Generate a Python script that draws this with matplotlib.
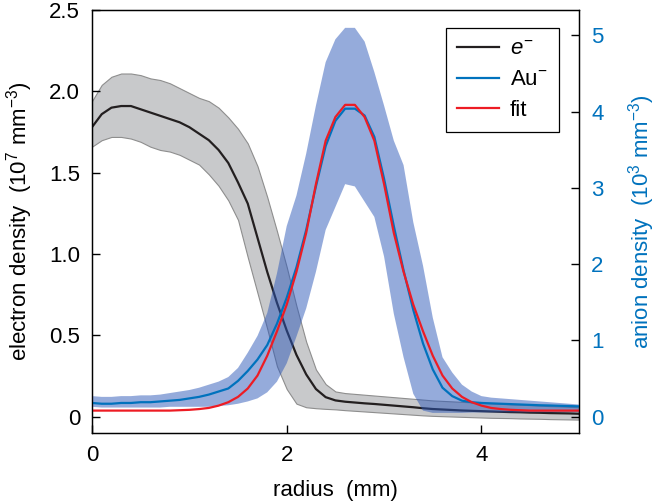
import numpy as np
import matplotlib
matplotlib.use("Agg")
from matplotlib import pyplot as plt

plt.rcParams['font.family'] = ['Liberation Sans', 'DejaVu Sans']
plt.rcParams['mathtext.fontset'] = 'custom'
plt.rcParams['mathtext.rm'] = 'Liberation Sans'
plt.rcParams['mathtext.it'] = 'Liberation Sans:italic'
plt.rcParams['font.size'] = 16

# radius grid (mm)
radius = np.round(np.arange(0, 5.01, 0.1), 1)

# electron density (1e7 mm^-3), mean and band
e_mean = [1.78, 1.86, 1.90, 1.91, 1.91, 1.89, 1.87, 1.85, 1.83, 1.81,
          1.78, 1.74, 1.70, 1.64, 1.56, 1.44, 1.31, 1.10, 0.89, 0.70,
          0.53, 0.38, 0.26, 0.17, 0.12, 0.10, 0.092, 0.087, 0.082, 0.078,
          0.073, 0.068, 0.063, 0.058, 0.052, 0.047, 0.044, 0.041, 0.038, 0.036,
          0.034, 0.032, 0.030, 0.028, 0.027, 0.025, 0.024, 0.022, 0.021, 0.020,
          0.018]
e_hi = [1.94, 2.04, 2.09, 2.11, 2.11, 2.10, 2.08, 2.07, 2.05, 2.02,
        1.99, 1.96, 1.94, 1.90, 1.84, 1.77, 1.68, 1.54, 1.35, 1.14,
        0.92, 0.68, 0.46, 0.29, 0.20, 0.155, 0.145, 0.14, 0.135, 0.13,
        0.125, 0.12, 0.115, 0.11, 0.105, 0.10, 0.097, 0.094, 0.091, 0.088,
        0.085, 0.082, 0.079, 0.076, 0.074, 0.071, 0.068, 0.065, 0.063, 0.060,
        0.058]
e_lo = [1.66, 1.70, 1.72, 1.72, 1.71, 1.69, 1.66, 1.64, 1.63, 1.61,
        1.58, 1.55, 1.49, 1.42, 1.33, 1.21, 0.98, 0.76, 0.54, 0.31,
        0.17, 0.08, 0.058, 0.052, 0.048, 0.045, 0.040, 0.036, 0.032, 0.028,
        0.024, 0.020, 0.016, 0.012, 0.008, 0.005, 0.003, 0.001, -0.001, -0.003,
        -0.005, -0.007, -0.008, -0.009, -0.011, -0.012, -0.013, -0.015, -0.016, -0.017,
        -0.018]

# anion density (1e3 mm^-3), mean, band and fit
au_mean = [0.18, 0.17, 0.17, 0.18, 0.18, 0.19, 0.19, 0.20, 0.21, 0.22,
           0.24, 0.26, 0.29, 0.33, 0.37, 0.47, 0.60, 0.75, 0.94, 1.22,
           1.56, 1.96, 2.45, 3.02, 3.55, 3.88, 4.04, 4.04, 3.95, 3.67,
           3.12, 2.50, 1.92, 1.40, 0.96, 0.62, 0.38, 0.27, 0.21, 0.19,
           0.18, 0.175, 0.17, 0.165, 0.16, 0.155, 0.15, 0.147, 0.143, 0.14,
           0.135]
au_hi = [0.27, 0.26, 0.26, 0.27, 0.27, 0.28, 0.28, 0.29, 0.31, 0.33,
         0.35, 0.38, 0.42, 0.46, 0.52, 0.64, 0.84, 1.06, 1.36, 1.88,
         2.50, 2.90, 3.45, 4.08, 4.65, 4.95, 5.10, 5.10, 4.92, 4.52,
         4.08, 3.62, 3.30, 2.55, 1.98, 1.30, 0.78, 0.58, 0.42, 0.33,
         0.27, 0.25, 0.24, 0.23, 0.22, 0.21, 0.20, 0.19, 0.18, 0.17,
         0.16]
au_lo = [0.13, 0.12, 0.12, 0.12, 0.12, 0.12, 0.12, 0.12, 0.13, 0.13,
         0.13, 0.13, 0.13, 0.14, 0.15, 0.17, 0.20, 0.24, 0.32, 0.46,
         0.70, 1.05, 1.42, 1.90, 2.45, 2.75, 3.05, 3.02, 2.82, 2.62,
         2.10, 1.35, 0.78, 0.30, 0.08, 0.05, 0.05, 0.05, 0.05, 0.055,
         0.055, 0.055, 0.055, 0.056, 0.056, 0.057, 0.058, 0.058, 0.059, 0.06,
         0.06]
au_fit = [0.08, 0.08, 0.08, 0.08, 0.08, 0.08, 0.08, 0.08, 0.08, 0.085,
          0.09, 0.10, 0.115, 0.145, 0.19, 0.26, 0.37, 0.54, 0.80, 1.12,
          1.47, 1.90, 2.41, 3.05, 3.62, 3.93, 4.09, 4.09, 3.93, 3.62,
          3.05, 2.41, 1.90, 1.47, 1.12, 0.80, 0.54, 0.37, 0.26, 0.19,
          0.145, 0.115, 0.10, 0.09, 0.085, 0.08, 0.08, 0.08, 0.08, 0.08,
          0.08]

c_black = '#231f20'
c_blue = '#0072bd'
c_red = '#ed1c24'

fig = plt.figure(figsize=(6.57, 5.04), dpi=100)
ax = fig.add_axes([0.140, 0.141, 0.741, 0.839])
ax2 = ax.twinx()

ax.fill_between(radius, e_lo, e_hi, facecolor='#c8c9cb', edgecolor='#8e8e8e', lw=0.8)
ln_e, = ax.plot(radius, e_mean, color=c_black, lw=1.6, label='$e^{-}$')

ax2.fill_between(radius, au_lo, au_hi, facecolor='#2d58b8', alpha=0.5, lw=0)
ln_au, = ax2.plot(radius, au_mean, color=c_blue, lw=1.6, label='Au$^{-}$')
ln_fit, = ax2.plot(radius, au_fit, color=c_red, lw=1.6, label='fit')

ax.set_xlim(0, 5)
ax.set_ylim(-0.1, 2.5)
ax2.set_ylim(-0.213, 5.333)
ax.set_xticks([0, 2, 4])
ax.set_yticks([0, 0.5, 1.0, 1.5, 2.0, 2.5])
ax.set_yticklabels(['0', '0.5', '1.0', '1.5', '2.0', '2.5'])
ax2.set_yticks([0, 1, 2, 3, 4, 5])

ax.tick_params(axis='x', direction='in', length=6, width=1, pad=9, top=False)
ax.tick_params(axis='y', direction='in', length=5.5, width=1, pad=8.5, right=False)
ax2.tick_params(axis='y', direction='in', length=5.5, width=1, pad=9, colors=c_blue)
ax2.tick_params(axis='y', color='black')
for a in (ax, ax2):
    for s in a.spines.values():
        s.set_linewidth(0.9)

ax.set_xlabel('radius  (mm)', labelpad=10)
ax.set_ylabel('electron density  (10$^{7}$ mm$^{-3}$)', labelpad=10)
ax2.set_ylabel('anion density  (10$^{3}$ mm$^{-3}$)', color=c_blue, labelpad=16)

leg = ax2.legend(handles=[ln_e, ln_au, ln_fit], loc='upper right',
                 bbox_to_anchor=(0.959, 0.958), borderaxespad=0,
                 fancybox=False, framealpha=1, edgecolor='black',
                 handlelength=1.9, handletextpad=0.5, labelspacing=0.42,
                 borderpad=0.5, fontsize=16)
leg.get_frame().set_linewidth(0.9)

fig.savefig('out.png', dpi=100)
